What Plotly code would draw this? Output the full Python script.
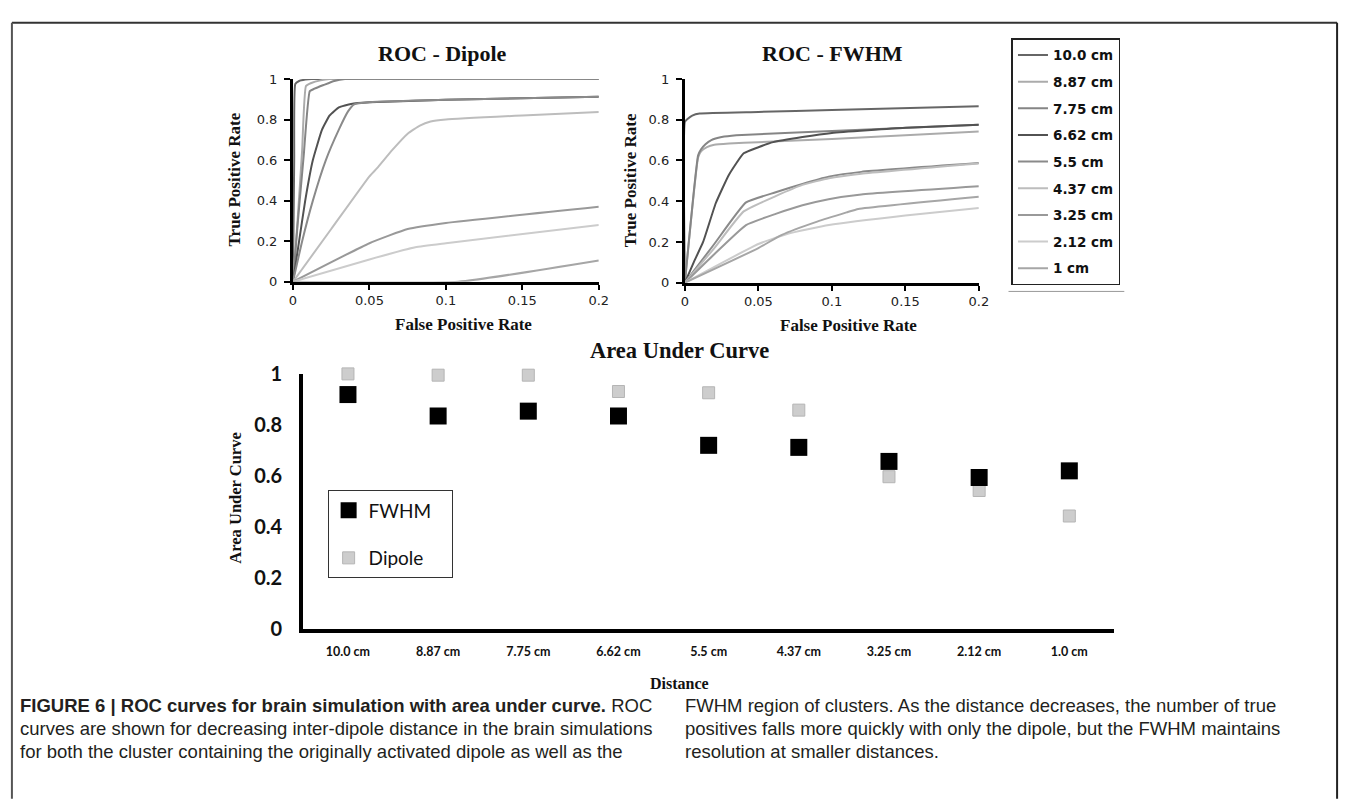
import plotly.graph_objects as go

W, H = 1355, 804

# ---------------- data ----------------
distances = ["10.0 cm", "8.87 cm", "7.75 cm", "6.62 cm", "5.5 cm",
             "4.37 cm", "3.25 cm", "2.12 cm", "1 cm"]
line_colors = ["#666666", "#ababab", "#858585", "#525252", "#8a8a8a",
               "#bdbdbd", "#999999", "#cccccc", "#a6a6a6"]

# ROC - Dipole (False Positive Rate, True Positive Rate)
dip_fpr_10 = [0, 0.0008, 0.0015, 0.004, 0.008, 0.012, 0.2]
dip_tpr_10 = [0, 0.6, 0.975, 0.99, 0.997, 1.0, 1.0]
dip_fpr_887 = [0, 0.003, 0.006, 0.0085, 0.012, 0.018, 0.024, 0.2]
dip_tpr_887 = [0, 0.3, 0.65, 0.965, 0.98, 0.993, 1.0, 1.0]
dip_fpr_775 = [0, 0.003, 0.007, 0.011, 0.014, 0.02, 0.027, 0.034, 0.2]
dip_tpr_775 = [0, 0.28, 0.62, 0.94, 0.952, 0.97, 0.99, 1.0, 1.0]
dip_fpr_662 = [0, 0.004, 0.008, 0.013, 0.019, 0.024, 0.03, 0.038, 0.05, 0.1, 0.2]
dip_tpr_662 = [0, 0.2, 0.4, 0.6, 0.75, 0.82, 0.86, 0.877, 0.885, 0.897, 0.912]
dip_fpr_55 = [0, 0.006, 0.013, 0.0215, 0.03, 0.036, 0.04, 0.05, 0.1, 0.2]
dip_tpr_55 = [0, 0.2, 0.4, 0.6, 0.75, 0.84, 0.875, 0.885, 0.897, 0.912]
dip_fpr_437 = [0, 0.025, 0.05, 0.055, 0.065, 0.075, 0.083, 0.09, 0.1, 0.15, 0.2]
dip_tpr_437 = [0, 0.26, 0.52, 0.56, 0.65, 0.73, 0.77, 0.79, 0.80, 0.82, 0.837]
dip_fpr_325 = [0, 0.05, 0.075, 0.1, 0.2]
dip_tpr_325 = [0, 0.19, 0.26, 0.29, 0.37]
dip_fpr_212 = [0, 0.05, 0.08, 0.1, 0.2]
dip_tpr_212 = [0, 0.11, 0.17, 0.19, 0.28]
dip_fpr_1 = [0, 0.108, 0.2]
dip_tpr_1 = [0, 0.0, 0.105]

# ROC - FWHM
fw_fpr_10 = [0, 0, 0.002, 0.005, 0.01, 0.05, 0.1, 0.2]
fw_tpr_10 = [0, 0.79, 0.805, 0.82, 0.83, 0.838, 0.848, 0.866]
fw_fpr_887 = [0, 0.009, 0.011, 0.015, 0.02, 0.03, 0.05, 0.1, 0.2]
fw_tpr_887 = [0, 0.615, 0.645, 0.665, 0.677, 0.683, 0.69, 0.705, 0.742]
fw_fpr_775 = [0, 0.009, 0.011, 0.014, 0.018, 0.025, 0.035, 0.1, 0.2]
fw_tpr_775 = [0, 0.625, 0.655, 0.68, 0.70, 0.715, 0.724, 0.745, 0.775]
fw_fpr_662 = [0, 0.006, 0.0124, 0.021, 0.03, 0.04, 0.05, 0.06, 0.08, 0.1, 0.15, 0.2]
fw_tpr_662 = [0, 0.1, 0.2, 0.39, 0.53, 0.635, 0.665, 0.69, 0.715, 0.735, 0.76, 0.775]
fw_fpr_55 = [0, 0.02, 0.0416, 0.0618, 0.08, 0.0978, 0.12, 0.2]
fw_tpr_55 = [0, 0.19, 0.394, 0.444, 0.485, 0.52, 0.544, 0.587]
fw_fpr_437 = [0, 0.02, 0.04, 0.0618, 0.08, 0.098, 0.12, 0.2]
fw_tpr_437 = [0, 0.17, 0.35, 0.425, 0.48, 0.513, 0.535, 0.585]
fw_fpr_325 = [0, 0.02, 0.0416, 0.0618, 0.08, 0.0978, 0.12, 0.2]
fw_tpr_325 = [0, 0.14, 0.283, 0.338, 0.38, 0.41, 0.433, 0.473]
fw_fpr_212 = [0, 0.05, 0.07, 0.098, 0.15, 0.2]
fw_tpr_212 = [0, 0.19, 0.24, 0.283, 0.33, 0.367]
fw_fpr_1 = [0, 0.05, 0.066, 0.09, 0.11, 0.118, 0.2]
fw_tpr_1 = [0, 0.17, 0.235, 0.3, 0.345, 0.362, 0.422]

roc_ticks = [0, 0.05, 0.1, 0.15, 0.2]
roc_ticktext = ["0", "0.05", "0.1", "0.15", "0.2"]
tpr_ticks = [0, 0.2, 0.4, 0.6, 0.8, 1]
tpr_ticktext = ["0", "0.2", "0.4", "0.6", "0.8", "1"]

# Area under curve
auc_categories = ["10.0 cm", "8.87 cm", "7.75 cm", "6.62 cm", "5.5 cm",
                  "4.37 cm", "3.25 cm", "2.12 cm", "1.0 cm"]
auc_fwhm = [0.919, 0.835, 0.854, 0.835, 0.72, 0.712, 0.657, 0.594, 0.62]
auc_dipole = [1.0, 0.995, 0.995, 0.931, 0.926, 0.858, 0.597, 0.543, 0.443]
auc_ticks = [0, 0.2, 0.4, 0.6, 0.8, 1]
auc_ticktext = ["0", "0.2", "0.4", "0.6", "0.8", "1"]

caption_left = [
    "<b>FIGURE 6 | ROC curves for brain simulation with area under curve.</b> ROC",
    "curves are shown for decreasing inter-dipole distance in the brain simulations",
    "for both the cluster containing the originally activated dipole as well as the",
]
caption_right = [
    "FWHM region of clusters. As the distance decreases, the number of true",
    "positives falls more quickly with only the dipole, but the FWHM maintains",
    "resolution at smaller distances.",
]

dip_fpr = [dip_fpr_10, dip_fpr_887, dip_fpr_775, dip_fpr_662, dip_fpr_55,
           dip_fpr_437, dip_fpr_325, dip_fpr_212, dip_fpr_1]
dip_tpr = [dip_tpr_10, dip_tpr_887, dip_tpr_775, dip_tpr_662, dip_tpr_55,
           dip_tpr_437, dip_tpr_325, dip_tpr_212, dip_tpr_1]
fw_fpr = [fw_fpr_10, fw_fpr_887, fw_fpr_775, fw_fpr_662, fw_fpr_55,
          fw_fpr_437, fw_fpr_325, fw_fpr_212, fw_fpr_1]
fw_tpr = [fw_tpr_10, fw_tpr_887, fw_tpr_775, fw_tpr_662, fw_tpr_55,
          fw_tpr_437, fw_tpr_325, fw_tpr_212, fw_tpr_1]


def PX(p):
    return p / W


def PY(p):
    return 1 - p / H


SERIF = "Liberation Serif, Times New Roman, serif"
VERD = "DejaVu Sans, Verdana, sans-serif"
CAL = "Lato, Carlito, Calibri, sans-serif"
CAP = "Liberation Sans, Arial, Helvetica, sans-serif"
PAD = "\u00a0\u00a0\u00a0"

fig = go.Figure()

for i, name in enumerate(distances):
    fig.add_trace(go.Scatter(
        x=dip_fpr[i], y=dip_tpr[i], mode="lines", name=name,
        line=dict(color=line_colors[i], width=2, shape="spline", smoothing=0.4),
        xaxis="x", yaxis="y", legend="legend", legendgroup=name,
        legendrank=i + 1, cliponaxis=False, showlegend=True))
for i, name in enumerate(distances):
    fig.add_trace(go.Scatter(
        x=fw_fpr[i], y=fw_tpr[i], mode="lines", name=name,
        line=dict(color=line_colors[i], width=2, shape="spline", smoothing=0.4),
        xaxis="x2", yaxis="y2", legendgroup=name,
        cliponaxis=False, showlegend=False))

fig.add_trace(go.Scatter(
    x=auc_categories, y=auc_dipole, mode="markers", name="Dipole" + PAD,
    marker=dict(symbol="square", size=12, color="#cdcdcd",
                line=dict(color="#b5b5b5", width=1)),
    xaxis="x3", yaxis="y3", legend="legend2", legendgroup="Dipole",
    legendrank=2, cliponaxis=False))
fig.add_trace(go.Scatter(
    x=auc_categories, y=auc_fwhm, mode="markers", name="FWHM" + PAD,
    marker=dict(symbol="square", size=17, color="#000000",
                line=dict(color="#000000", width=0)),
    xaxis="x3", yaxis="y3", legend="legend2", legendgroup="FWHM",
    legendrank=1, cliponaxis=False))

roc_x_common = dict(range=[0, 0.2], tickvals=roc_ticks, ticktext=roc_ticktext,
                    showline=True, linecolor="black", linewidth=3,
                    ticks="outside", ticklen=5, tickwidth=2, tickcolor="black",
                    showgrid=False, zeroline=False, fixedrange=True,
                    tickfont=dict(family=VERD, size=13, color="#222222"))
roc_y_common = dict(range=[0, 1], tickvals=tpr_ticks, ticktext=tpr_ticktext,
                    showline=True, linecolor="black", linewidth=3,
                    ticks="outside", ticklen=6, tickwidth=2, tickcolor="black",
                    showgrid=False, zeroline=False, fixedrange=True,
                    ticklabelstandoff=4,
                    tickfont=dict(family=VERD, size=13, color="#222222"))

fig.update_layout(
    width=W, height=H,
    margin=dict(l=0, r=0, t=0, b=0),
    paper_bgcolor="white", plot_bgcolor="white",
    xaxis=dict(domain=[PX(292), PX(601)], anchor="y", **roc_x_common),
    yaxis=dict(domain=[PY(277), PY(68)], anchor="x", **roc_y_common),
    xaxis2=dict(domain=[PX(688), PX(985)], anchor="y2", **roc_x_common),
    yaxis2=dict(domain=[PY(278), PY(68)], anchor="x2", **roc_y_common),
    xaxis3=dict(domain=[PX(302), PX(1122)], anchor="y3", type="category",
                categoryorder="array", categoryarray=auc_categories,
                range=[-0.5, 8.5], showline=True, linecolor="black", linewidth=3.5,
                ticks="", showgrid=False, zeroline=False, fixedrange=True,
                ticklabelstandoff=8,
                tickfont=dict(family=CAL, size=12.5, color="#111111", weight="bold")),
    yaxis3=dict(domain=[PY(635), PY(372)], anchor="x3", range=[0, 1],
                tickvals=auc_ticks, ticktext=auc_ticktext,
                showline=True, linecolor="black", linewidth=3.5,
                ticks="", showgrid=False, zeroline=False, fixedrange=True,
                ticklabelstandoff=13,
                tickfont=dict(family=CAL, size=20, color="#111111", weight="bold")),
    legend=dict(x=PX(1018), y=PY(26), xanchor="left", yanchor="top",
                bordercolor="#222222", borderwidth=1.5, bgcolor="white",
                font=dict(family=VERD, size=13.5, color="#111111", weight="bold"),
                tracegroupgap=6.1, itemwidth=30, traceorder="grouped"),
    legend2=dict(x=PX(327), y=PY(492), xanchor="left", yanchor="top",
                 bordercolor="#333333", borderwidth=1, bgcolor="white",
                 font=dict(family=CAL, size=19, color="#111111"),
                 tracegroupgap=20, itemwidth=30, traceorder="grouped"),
    showlegend=True,
)


def label(text, x, y, size, angle=0, family=SERIF, xanchor="center"):
    return dict(text=text, x=PX(x), y=PY(y), xref="paper", yref="paper",
                xanchor=xanchor, yanchor="middle", showarrow=False, textangle=angle,
                font=dict(family=family, size=size, color="#111111"))


ann = [
    label("<b>ROC - Dipole</b>", 443, 42, 22),
    label("<b>ROC - FWHM</b>", 837, 42, 22),
    label("<b>True Positive Rate</b>", 233, 172, 17, angle=-90),
    label("<b>True Positive Rate</b>", 633, 172, 17, angle=-90),
    label("<b>False Positive Rate</b>", 464, 321, 17),
    label("<b>False Positive Rate</b>", 853, 322, 17),
    label("<b>Area Under Curve</b>", 683, 348, 22.5),
    label("<b>Area Under Curve</b>", 233, 500, 16.5, angle=-90),
    label("<b>Distance</b>", 683, 691, 16),
]

cap_y = [714, 738, 761]
for line, yy in zip(caption_left, cap_y):
    a = label(line, 14, yy, 18.5, family=CAP, xanchor="left")
    a["font"]["color"] = "#231f20"
    ann.append(a)
for line, yy in zip(caption_right, cap_y):
    a = label(line, 686, yy, 18.5, family=CAP, xanchor="left")
    a["font"]["color"] = "#231f20"
    ann.append(a)
fig.update_layout(annotations=ann)

shapes = [
    dict(type="line", xref="paper", yref="paper", x0=PX(8), x1=PX(1347), y0=PY(10), y1=PY(10),
         line=dict(color="#333333", width=2)),
    dict(type="line", xref="paper", yref="paper", x0=PX(8), x1=PX(8), y0=PY(10), y1=PY(810),
         line=dict(color="#555555", width=2)),
    dict(type="line", xref="paper", yref="paper", x0=PX(1347), x1=PX(1347), y0=PY(10), y1=PY(810),
         line=dict(color="#222222", width=2)),
    dict(type="line", xref="paper", yref="paper", x0=PX(1015), x1=PX(1132), y0=PY(287), y1=PY(287),
         line=dict(color="#999999", width=1)),
]
fig.update_layout(shapes=shapes)

fig.write_html(
    "out.html",
    post_script="document.body.style.margin='0';document.body.style.padding='0';"
                "document.documentElement.style.overflow='hidden';",
)
